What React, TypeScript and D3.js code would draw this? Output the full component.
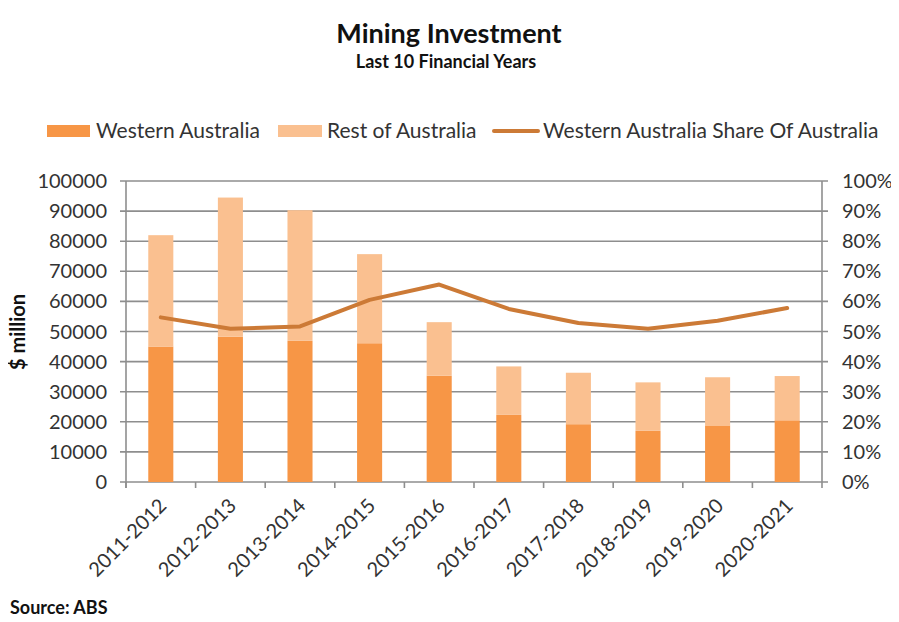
import React, { useRef, useEffect } from 'react';
import * as d3 from 'd3';

const years = [
    '2011-2012', '2012-2013', '2013-2014', '2014-2015', '2015-2016',
    '2016-2017', '2017-2018', '2018-2019', '2019-2020', '2020-2021',
];
const westernAustralia = [45000, 48300, 46900, 46100, 35300, 22300, 19200, 17000, 18800, 20500];
const restOfAustralia = [37000, 46200, 43400, 29600, 17800, 16100, 17100, 16100, 16000, 14700];
const waShare = [0.547, 0.509, 0.517, 0.605, 0.656, 0.575, 0.528, 0.509, 0.536, 0.578];
const leftTicks = [0, 10000, 20000, 30000, 40000, 50000, 60000, 70000, 80000, 90000, 100000];
const rightTicks = [0, 0.1, 0.2, 0.3, 0.4, 0.5, 0.6, 0.7, 0.8, 0.9, 1];

const WA_COLOR = '#f79646';
const REST_COLOR = '#fac090';
const LINE_COLOR = '#cc7a36';
const GRID = '#8e8e8e';
const FONT = 'Lato, "Open Sans", sans-serif';

function App(): React.ReactElement {
    const ref = useRef<HTMLDivElement | null>(null);

    useEffect(() => {
        if (!ref.current) return;
        const container = ref.current;
        const width = 899;
        const height = 622;
        const margin = { top: 181, right: 77, bottom: 140, left: 126 };

        d3.select(container).selectAll('*').remove();

        const svg = d3
            .select(container)
            .append('svg')
            .attr('width', width)
            .attr('height', height)
            .style('font-family', FONT);

        const x = d3
            .scaleBand<string>()
            .domain(years)
            .range([margin.left, width - margin.right])
            .paddingInner(0.64)
            .paddingOuter(0.32);

        const y = d3
            .scaleLinear()
            .domain([0, 100000])
            .range([height - margin.bottom, margin.top]);

        const yPct = d3
            .scaleLinear()
            .domain([0, 1])
            .range([height - margin.bottom, margin.top]);

        // title
        svg.append('text')
            .attr('x', 449)
            .attr('y', 43)
            .attr('text-anchor', 'middle')
            .style('font-size', '27px')
            .style('font-weight', 'bold')
            .attr('fill', '#111')
            .text('Mining Investment');

        svg.append('text')
            .attr('x', 446)
            .attr('y', 68)
            .attr('text-anchor', 'middle')
            .style('font-size', '18px')
            .style('font-weight', 'bold')
            .attr('fill', '#111')
            .text('Last 10 Financial Years');

        // gridlines
        svg.append('g')
            .selectAll('line')
            .data(leftTicks)
            .join('line')
            .attr('x1', margin.left - 6)
            .attr('x2', width - margin.right + 6)
            .attr('y1', d => y(d))
            .attr('y2', d => y(d))
            .attr('stroke', GRID)
            .attr('stroke-width', 1.6);

        // stacked bars
        const stacked = years.map((yr, i) => ({
            year: yr,
            wa: westernAustralia[i],
            rest: restOfAustralia[i],
        }));
        const stack = d3.stack<any>().keys(['wa', 'rest'])(stacked);
        const colors = [WA_COLOR, REST_COLOR];

        svg.append('g')
            .selectAll('g')
            .data(stack)
            .join('g')
            .attr('fill', (_, i) => colors[i])
            .selectAll('rect')
            .data(d => d)
            .join('rect')
            .attr('x', d => x(d.data.year)!)
            .attr('width', x.bandwidth())
            .attr('y', d => y(d[1]))
            .attr('height', d => y(d[0]) - y(d[1]));

        // axes lines
        const x0 = margin.left;
        const x1 = width - margin.right;
        const yb = height - margin.bottom;
        svg.append('line')
            .attr('x1', x0).attr('x2', x0)
            .attr('y1', margin.top).attr('y2', yb + 6)
            .attr('stroke', GRID).attr('stroke-width', 1.6);
        svg.append('line')
            .attr('x1', x1).attr('x2', x1)
            .attr('y1', margin.top).attr('y2', yb + 6)
            .attr('stroke', GRID).attr('stroke-width', 1.6);

        // bottom ticks at band boundaries
        const step = x.step();
        const boundaries = years.map(yr => x(yr)! - (step - x.bandwidth()) / 2);
        svg.append('g')
            .selectAll('line')
            .data(boundaries)
            .join('line')
            .attr('x1', d => d)
            .attr('x2', d => d)
            .attr('y1', yb)
            .attr('y2', yb + 6)
            .attr('stroke', GRID)
            .attr('stroke-width', 1.6);

        // left labels
        svg.append('g')
            .selectAll('text')
            .data(leftTicks)
            .join('text')
            .attr('x', 107)
            .attr('y', d => y(d))
            .attr('dy', '0.35em')
            .attr('text-anchor', 'end')
            .style('font-size', '20px')
            .attr('fill', '#333')
            .text(d => String(d));

        // right labels
        svg.append('g')
            .selectAll('text')
            .data(rightTicks)
            .join('text')
            .attr('x', 842)
            .attr('y', d => yPct(d))
            .attr('dy', '0.35em')
            .attr('text-anchor', 'start')
            .style('font-size', '20px')
            .attr('fill', '#333')
            .text(d => d3.format('.0%')(d));

        // x labels
        svg.append('g')
            .selectAll('text')
            .data(years)
            .join('text')
            .attr('transform', d => `translate(${x(d)! + x.bandwidth() / 2 + 7},${yb + 25}) rotate(-45)`)
            .attr('text-anchor', 'end')
            .style('font-size', '20px')
            .attr('fill', '#333')
            .text(d => d);

        // share line
        const line = d3
            .line<number>()
            .x((_, i) => x(years[i])! + x.bandwidth() / 2)
            .y(d => yPct(d));

        svg.append('path')
            .attr('fill', 'none')
            .attr('stroke', LINE_COLOR)
            .attr('stroke-width', 4)
            .attr('stroke-linejoin', 'round')
            .attr('stroke-linecap', 'round')
            .attr('d', line(waShare) ?? '');

        // y axis title
        svg.append('text')
            .attr('transform', 'translate(25,332) rotate(-90)')
            .attr('text-anchor', 'middle')
            .style('font-size', '20px')
            .style('font-weight', 'bold')
            .attr('fill', '#111')
            .text('$ million');

        // source
        svg.append('text')
            .attr('x', 10)
            .attr('y', 614)
            .style('font-size', '18px')
            .style('font-weight', 'bold')
            .attr('fill', '#111')
            .text('Source: ABS');

        // legend
        const legend = svg.append('g').style('font-size', '21px').attr('fill', '#333');
        legend.append('rect').attr('x', 47).attr('y', 125).attr('width', 43).attr('height', 12).attr('fill', WA_COLOR);
        legend.append('text').attr('x', 96).attr('y', 138).text('Western Australia');
        legend.append('rect').attr('x', 278).attr('y', 125).attr('width', 44).attr('height', 12).attr('fill', REST_COLOR);
        legend.append('text').attr('x', 327).attr('y', 138).text('Rest of Australia');
        legend.append('line')
            .attr('x1', 494).attr('x2', 538).attr('y1', 131).attr('y2', 131)
            .attr('stroke', LINE_COLOR).attr('stroke-width', 4).attr('stroke-linecap', 'round');
        legend.append('text').attr('x', 543).attr('y', 138).text('Western Australia Share Of Australia');
    }, []);

    return <div ref={ref} style={{ width: 899, height: 622, margin: -8 }} />;
}

export default App;
